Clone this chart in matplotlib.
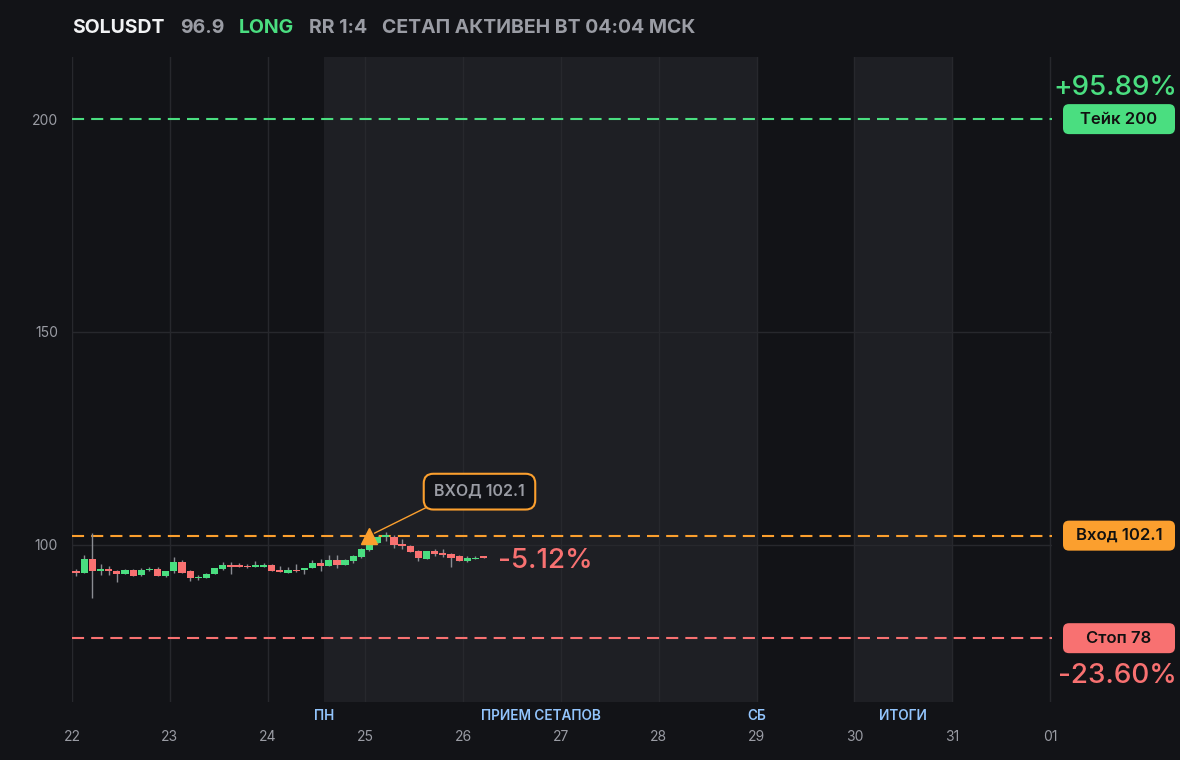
import matplotlib
matplotlib.use("Agg")
import matplotlib.pyplot as plt
import matplotlib.transforms as mtransforms
from matplotlib.patches import FancyBboxPatch
import numpy as np


SYMBOL = "SOLUSDT"
SIDE = "LONG"
RR = "RR 1:4"
STATUS = "СЕТАП АКТИВЕН ВТ 04:04 МСК"

DAY_LABELS = ["22", "23", "24", "25", "26", "27", "28", "29", "30", "31", "01"]
CANDLE_HOURS = 2

# 2h candles starting 22-го 00:00
OPENS = [93.74, 93.43, 96.71, 93.90, 94.37, 93.90, 93.11, 94.13, 92.80, 93.98,
         94.37, 92.57, 93.74, 96.01, 93.74, 92.10, 92.25, 93.03, 94.37, 95.31,
         95.31, 95.07, 94.84, 94.84, 95.31, 93.98, 93.43, 94.13, 93.98, 94.45,
         95.77, 94.92, 96.48, 95.15, 96.24, 97.18, 98.83, 100.40, 101.80, 101.80,
         100.20, 99.70, 98.60, 96.70, 98.40, 98.10, 97.90, 97.20, 96.25, 96.55,
         97.00]
HIGHS = [94.30, 97.65, 102.80, 95.54, 95.07, 94.00, 94.30, 94.20, 94.52, 94.84,
         94.76, 93.90, 97.18, 96.48, 94.05, 92.96, 93.30, 94.60, 95.85, 95.85,
         95.78, 95.54, 96.17, 95.78, 95.40, 95.07, 94.68, 95.54, 94.60, 96.48,
         96.71, 97.65, 97.65, 96.50, 97.50, 99.10, 100.10, 102.00, 103.00, 102.20,
         101.20, 99.90, 98.70, 98.50, 98.90, 98.90, 98.00, 97.60, 97.30, 97.40,
         97.05]
LOWS = [92.57, 93.30, 87.40, 92.80, 92.80, 91.16, 93.00, 92.57, 92.70, 93.90,
        92.50, 92.33, 93.35, 93.40, 91.39, 91.63, 92.20, 93.00, 94.00, 93.03,
        94.70, 94.60, 94.68, 94.68, 93.70, 93.50, 93.27, 93.60, 93.03, 94.40,
        93.74, 94.90, 94.45, 95.10, 95.70, 96.90, 98.40, 100.30, 100.90, 99.20,
        98.90, 98.20, 96.20, 96.50, 97.30, 97.00, 94.70, 96.10, 95.80, 96.50,
        96.80]
CLOSES = [93.27, 96.64, 93.90, 94.37, 93.74, 93.11, 94.13, 92.72, 94.13, 94.37,
          92.57, 93.90, 96.01, 93.43, 92.10, 92.49, 93.19, 94.60, 95.31, 94.84,
          94.84, 94.68, 95.31, 95.31, 93.74, 93.51, 94.13, 93.74, 94.60, 95.77,
          94.92, 96.48, 95.15, 96.48, 97.42, 99.06, 100.00, 101.80, 102.20, 100.00,
          99.60, 98.30, 96.90, 98.40, 97.90, 97.65, 96.95, 96.25, 96.95, 96.95,
          96.87]

ENTRY = 102.1
TAKE = 200
STOP = 78
ENTRY_CANDLE = 36

# shaded zones (days from 22-го) and their captions
ZONES = [(2.58, 7.0), (8.0, 9.0)]
ZONE_LABELS = ["ПН", "ПРИЕМ СЕТАПОВ", "СБ", "ИТОГИ"]
ZONE_LABEL_X = [2.58, 4.79, 7.0, 8.5]

YTICKS = [100, 150, 200]

BG = "#121317"
ZONE_BG = "#1e1f24"
GRID = "#27282d"
GREEN = "#4ade80"
RED = "#f87171"
ORANGE = "#fb9f2e"
GRAY = "#9a9ca4"
BLUE = "#93c5fd"
WICK = "#8a8c92"

plt.rcParams["font.family"] = ["Inter", "DejaVu Sans"]

W, H = 1180, 760
fig = plt.figure(figsize=(W / 100, H / 100), dpi=100, facecolor=BG)
ax = fig.add_axes([72 / W, 58 / H, 980 / W, 645 / H])
ax.set_facecolor(BG)
ax.set_xlim(0, 10.02)
ax.set_ylim(63.0, 214.6)
for s in ax.spines.values():
    s.set_visible(False)

for a, b in ZONES:
    ax.axvspan(a, b, color=ZONE_BG, zorder=0, lw=0)

for d in range(len(DAY_LABELS)):
    ax.axvline(d, color=GRID, lw=1, zorder=1)
for v in YTICKS[:-1]:
    ax.axhline(v, color=GRID, lw=1, zorder=1)

ax.set_yticks(YTICKS)
ax.set_yticklabels([str(v) for v in YTICKS])
ax.tick_params(axis="y", length=0, pad=10, labelsize=10, labelcolor=GRAY)
ax.set_xticks([])

bt = mtransforms.blended_transform_factory(ax.transData, ax.transAxes)
for d, lbl in enumerate(DAY_LABELS):
    ax.text(d, -0.054, lbl, transform=bt, ha="center", va="center",
            fontsize=10, color=GRAY, clip_on=False)
for x, lbl in zip(ZONE_LABEL_X, ZONE_LABELS):
    ax.text(x, -0.021, lbl, transform=bt, ha="center", va="center",
            fontsize=9.8, color=BLUE, fontweight="semibold", clip_on=False)

# candles
x = (np.arange(len(OPENS)) * CANDLE_HOURS + CANDLE_HOURS / 2) / 24
o = np.array(OPENS)
c = np.array(CLOSES)
colors = [GREEN if cc >= oo else RED for oo, cc in zip(o, c)]
ax.vlines(x, LOWS, HIGHS, color=WICK, lw=1, zorder=3)
body = np.maximum(np.abs(c - o), 0.35)
ax.bar(x, body, bottom=np.minimum(o, c), width=0.074, color=colors,
       lw=0, zorder=4)

# levels
dash = dict(lw=1.5, dashes=(5.8, 3.4), zorder=2)
ax.axhline(TAKE, color=GREEN, **dash)
ax.axhline(ENTRY, color=ORANGE, **dash)
ax.axhline(STOP, color=RED, **dash)

# entry marker + callout
ax.plot(x[ENTRY_CANDLE], ENTRY, marker="^", ms=11, color=ORANGE, zorder=6)
ax.annotate(f"ВХОД {ENTRY}", xy=(x[ENTRY_CANDLE], ENTRY),
            xytext=(110, 44), textcoords="offset pixels",
            ha="center", va="center", fontsize=11.5, color=GRAY,
            fontweight="semibold",
            bbox=dict(boxstyle="round,pad=0.65,rounding_size=0.6",
                      fc=BG, ec=ORANGE, lw=1.5),
            arrowprops=dict(arrowstyle="-", color=ORANGE, lw=1,
                            relpos=(0.1, 0.0), shrinkA=0, shrinkB=4),
            zorder=7)

# current move vs entry
last_pct = (CLOSES[-1] / ENTRY - 1) * 100
ax.annotate(f"{last_pct:.2f}%", xy=(x[-1], CLOSES[-1]),
            xytext=(14, -3), textcoords="offset pixels",
            ha="left", va="center", fontsize=20, color=RED,
            fontweight="medium")

# right side badges
ident = mtransforms.IdentityTransform()


def badge(level, text, color):
    yp = ax.transData.transform((0, level))[1]
    fig.add_artist(FancyBboxPatch((1063, yp - 15), 112, 30,
                                  boxstyle="round,pad=0,rounding_size=6",
                                  fc=color, ec="none", transform=ident))
    fig.text(1119, yp, text, transform=ident, ha="center", va="center",
             fontsize=12, color="#111111", fontweight="semibold")
    return yp


yp = badge(TAKE, f"Тейк {TAKE}", GREEN)
fig.text(1177, yp + 31, f"+{(TAKE / ENTRY - 1) * 100:.2f}%", transform=ident,
         ha="right", va="center", fontsize=20, color=GREEN, fontweight="medium")
badge(ENTRY, f"Вход {ENTRY}", ORANGE)
yp = badge(STOP, f"Стоп {STOP}", RED)
fig.text(1177, yp - 38, f"{(STOP / ENTRY - 1) * 100:.2f}%", transform=ident,
         ha="right", va="center", fontsize=20, color=RED, fontweight="medium")

# header
hy = 1 - 28 / H
fig.text(72 / W, hy, SYMBOL, ha="left", va="center", fontsize=14,
         fontweight="bold", color="#f1f2f4")
fig.text(180 / W, hy, f"{CLOSES[-1]:.1f}", ha="left", va="center",
         fontsize=14, fontweight="bold", color=GRAY)
fig.text(239 / W, hy, SIDE, ha="left", va="center", fontsize=14,
         fontweight="bold", color=GREEN)
fig.text(309 / W, hy, RR, ha="left", va="center", fontsize=14,
         fontweight="bold", color=GRAY)
fig.text(382 / W, hy, STATUS, ha="left", va="center", fontsize=14,
         fontweight="bold", color=GRAY)

fig.savefig("out.png", dpi=100, facecolor=BG)
